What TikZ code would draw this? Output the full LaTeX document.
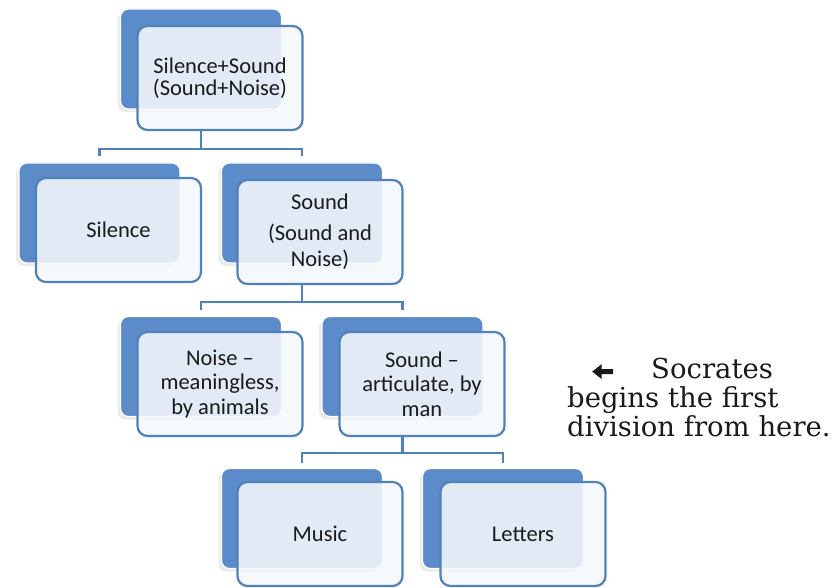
\documentclass[tikz,border=0pt]{standalone}
\usepackage{fontspec}
\setmainfont{Carlito}
\newfontfamily\notefont{DejaVu Serif}
\usetikzlibrary{calc,shadows}
\definecolor{backblue}{HTML}{5B8BC8}
\definecolor{lineblue}{HTML}{4F81BD}
\definecolor{frontfill}{HTML}{F5F8FC}
\definecolor{txt}{HTML}{1A1A1A}
\newcommand{\leftarrowmark}{\tikz[baseline={(0pt,-7pt)}]{\fill[txt] (0pt,0pt) -- (9.5pt,7.5pt) -- (9.5pt,2.4pt) -- (21pt,2.4pt) -- (21pt,-2.4pt) -- (9.5pt,-2.4pt) -- (9.5pt,-7.5pt) -- cycle;}}
\begin{document}
\begin{tikzpicture}[x=1pt,y=-1pt,
  backbox/.style={fill=backblue, draw=white, line width=1.2pt, rounded corners=8pt,
    minimum width=161pt, minimum height=100pt, inner sep=0pt,
    general shadow={fill=black!8, shadow xshift=-3pt, shadow yshift=-3pt}},
  frontbox/.style={draw=lineblue, line width=2.2pt, fill=frontfill, fill opacity=0.88,
    text opacity=1, text=txt, rounded corners=10pt, minimum width=165pt,
    minimum height=104pt, inner sep=0pt, align=center,
    font=\fontsize{22.5}{24.5}\selectfont},
  conn/.style={draw=lineblue, line width=2.4pt}]
\useasboundingbox (0,0) rectangle (832,588);

% level nodes
\node[backbox] (b1) at (201,59) {};
\node[frontbox, font=\fontsize{22.5}{22}\selectfont] (f1) at (220,78) {Silence+Sound\\(Sound+Noise)};

\node[backbox] (b2) at (99.5,213) {};
\node[frontbox] (f2) at (118.5,230) {Silence};
\node[backbox] (b3) at (302,213) {};
\node[frontbox, font=\fontsize{22.5}{26}\selectfont] (f3) at (320,232) {Sound\\[5pt](Sound and\\Noise)};

\node[backbox] (b4) at (201,366.5) {};
\node[frontbox] (f4) at (220,384) {Noise --\\meaningless,\\by animals};
\node[backbox] (b5) at (402.5,366.5) {};
\node[frontbox] (f5) at (422,384) {Sound --\\articulate, by\\man};

\node[backbox] (b6) at (302,518.5) {};
\node[frontbox] (f6) at (320,534) {Music};
\node[backbox] (b7) at (503,518.5) {};
\node[frontbox] (f7) at (523,534) {Letters};

% connectors between levels
\coordinate (j1) at ($(b1.south |- f1.south)+(0,18)$);
\draw[conn] (b1.south |- f1.south) -- (j1);
\draw[conn] (j1) -| ($(b2.north)+(0,-6)$);
\draw[conn] (j1) -| ($(b3.north)+(0,-6)$);

\coordinate (j2) at ($(b3.south |- f3.south)+(0,17)$);
\draw[conn] (b3.south |- f3.south) -- (j2);
\draw[conn] (j2) -| ($(b4.north)+(0,-6)$);
\draw[conn] (j2) -| ($(b5.north)+(0,-6)$);

\coordinate (j3) at ($(b5.south |- f5.south)+(0,16)$);
\draw[conn] (b5.south |- f5.south) -- (j3);
\draw[conn] (j3) -| ($(b6.north)+(0,-5)$);
\draw[conn] (j3) -| ($(b7.north)+(0,-5)$);

% side note
\node[anchor=north west, inner sep=0pt, align=left, text=txt,
  font=\notefont\fontsize{27.5}{29}\selectfont] (note) at (567,358)
  {\makebox[84pt][l]{\hspace*{25pt}\leftarrowmark}Socrates\\ begins the first\\ division from here.};
\end{tikzpicture}
\end{document}
